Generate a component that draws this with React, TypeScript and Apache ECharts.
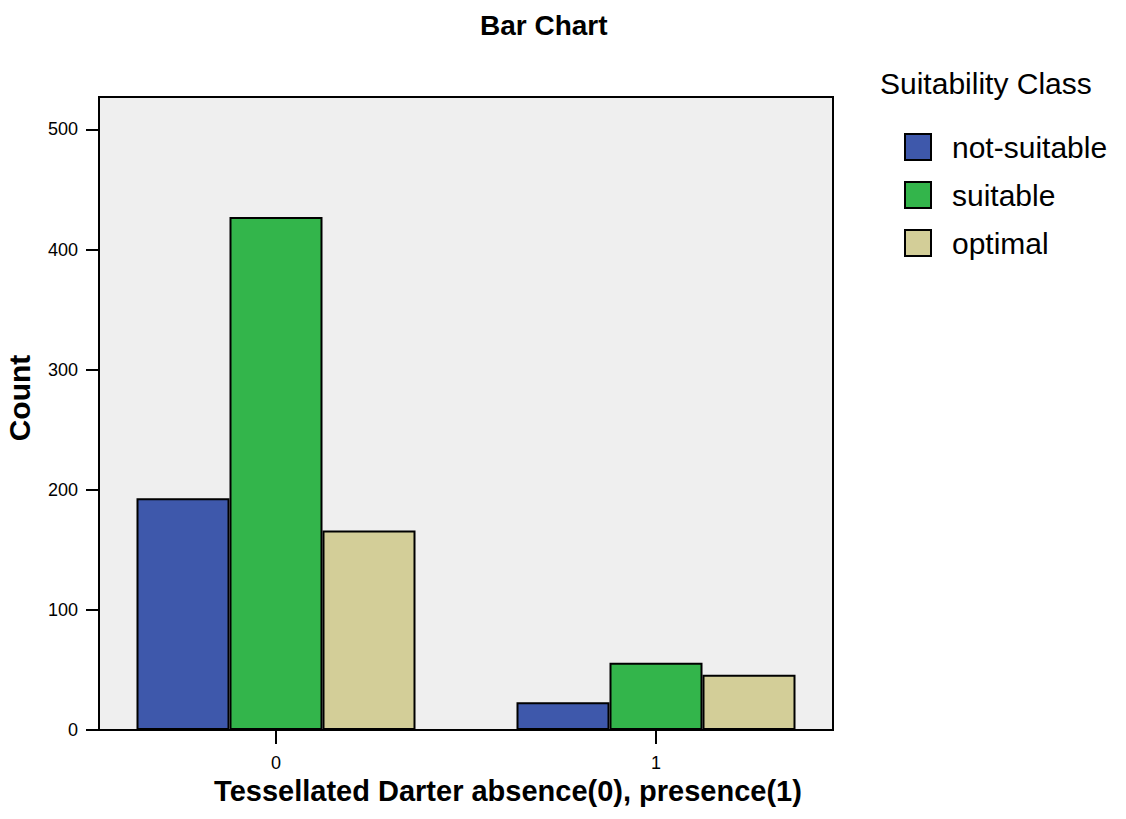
import React, { useEffect, useRef } from "react";
import * as echarts from "echarts";

const categories = ["0", "1"];
const seriesNames = ["not-suitable", "suitable", "optimal"];
const notSuitable = [193, 23];
const suitable = [427, 56];
const optimal = [166, 46];
const yTicks = [0, 100, 200, 300, 400, 500];
const colors = ["#3e58ab", "#33b54b", "#d3ce98"];

const FONT = '"Liberation Sans", Arial, Helvetica, sans-serif';

export default function App() {
  const ref = useRef<HTMLDivElement>(null);
  useEffect(() => {
    document.body.style.margin = "0";
    const chart = echarts.init(ref.current!, undefined, { renderer: "svg" });
    const values = [notSuitable, suitable, optimal];
    chart.setOption({
      animation: false,
      backgroundColor: "#ffffff",
      textStyle: { fontFamily: FONT },
      title: [
        {
          text: "Bar Chart",
          left: 480,
          top: 11,
          padding: 0,
          textStyle: { fontFamily: FONT, fontSize: 28, fontWeight: "bold", color: "#000" },
        },
        {
          text: "Suitability Class",
          left: 880,
          top: 68,
          padding: 0,
          textStyle: { fontFamily: FONT, fontSize: 30, fontWeight: "normal", color: "#000" },
        },
      ],
      legend: {
        orient: "vertical",
        left: 904,
        top: 132,
        padding: 0,
        itemWidth: 26,
        itemHeight: 26,
        itemGap: 18,
        icon: "rect",
        itemStyle: { borderColor: "#000", borderWidth: 2 },
        textStyle: { fontFamily: FONT, fontSize: 30, color: "#000", padding: [0, 0, 0, 16] },
        data: seriesNames,
      },
      grid: [
        {
          left: 99,
          right: 293,
          top: 97,
          bottom: 89,
          outerBoundsMode: "none",
          containLabel: false,
          show: true,
          backgroundColor: "#efefef",
          borderColor: "#000",
          borderWidth: 2,
        },
        {
          left: 86,
          right: 280,
          top: 97,
          bottom: 89,
          outerBoundsMode: "none",
          containLabel: false,
          show: false,
        },
      ],
      xAxis: [
        {
          gridIndex: 0,
          type: "category",
          data: categories,
          axisLine: { show: true, onZero: false, lineStyle: { color: "#000", width: 2 } },
          axisTick: { show: false },
          axisLabel: { show: false },
          splitLine: { show: false },
          name: "Tessellated Darter absence(0), presence(1)",
          nameLocation: "middle",
          nameGap: 46,
          nameTextStyle: {
            fontFamily: FONT,
            fontSize: 29,
            fontWeight: "bold",
            color: "#000",
            padding: [0, 0, 0, 84],
          },
        },
        {
          gridIndex: 1,
          type: "category",
          data: categories,
          boundaryGap: true,
          axisLine: { show: false, onZero: false },
          axisTick: { show: false },
          axisLabel: { fontFamily: FONT, fontSize: 18, color: "#000", margin: 24 },
          splitLine: { show: false },
        },
      ],
      yAxis: [
        {
          gridIndex: 0,
          type: "value",
          min: 0,
          max: 527,
          splitLine: { show: false },
          axisLine: { show: true, onZero: false, lineStyle: { color: "#000", width: 2 } },
          axisTick: {
            show: true,
            inside: false,
            length: 13,
            lineStyle: { color: "#000", width: 2 },
            customValues: yTicks,
          },
          axisLabel: {
            customValues: yTicks,
            fontFamily: FONT,
            fontSize: 18,
            color: "#000",
            margin: 21,
          },
          name: "Count",
          nameLocation: "middle",
          nameGap: 65,
          nameTextStyle: {
            fontFamily: FONT,
            fontSize: 30,
            fontWeight: "bold",
            color: "#000",
            padding: [0, 0, 0, 31],
          },
        },
        {
          gridIndex: 1,
          type: "value",
          min: 0,
          max: 527,
          show: false,
          splitLine: { show: false },
        },
      ],
      series: seriesNames.map((name, s) => ({
        name,
        type: "bar",
        xAxisIndex: 1,
        yAxisIndex: 1,
        barWidth: 93,
        barGap: "0%",
        itemStyle: { color: colors[s], borderColor: "#000", borderWidth: 2 },
        data: values[s],
      })),
    });

    // x-axis tick marks at category centres, positioned through the axis scales
    const ticks = categories.map((c) => {
      const p = chart.convertToPixel({ xAxisIndex: 1, yAxisIndex: 1 }, [c, 0]) as number[];
      return {
        type: "line",
        silent: true,
        z: 10,
        shape: { x1: p[0], y1: p[1] + 1, x2: p[0], y2: p[1] + 14 },
        style: { stroke: "#000", lineWidth: 2 },
      };
    });
    chart.setOption({ graphic: ticks });

    return () => chart.dispose();
  }, []);
  return <div ref={ref} style={{ width: 1126, height: 819 }} />;
}
